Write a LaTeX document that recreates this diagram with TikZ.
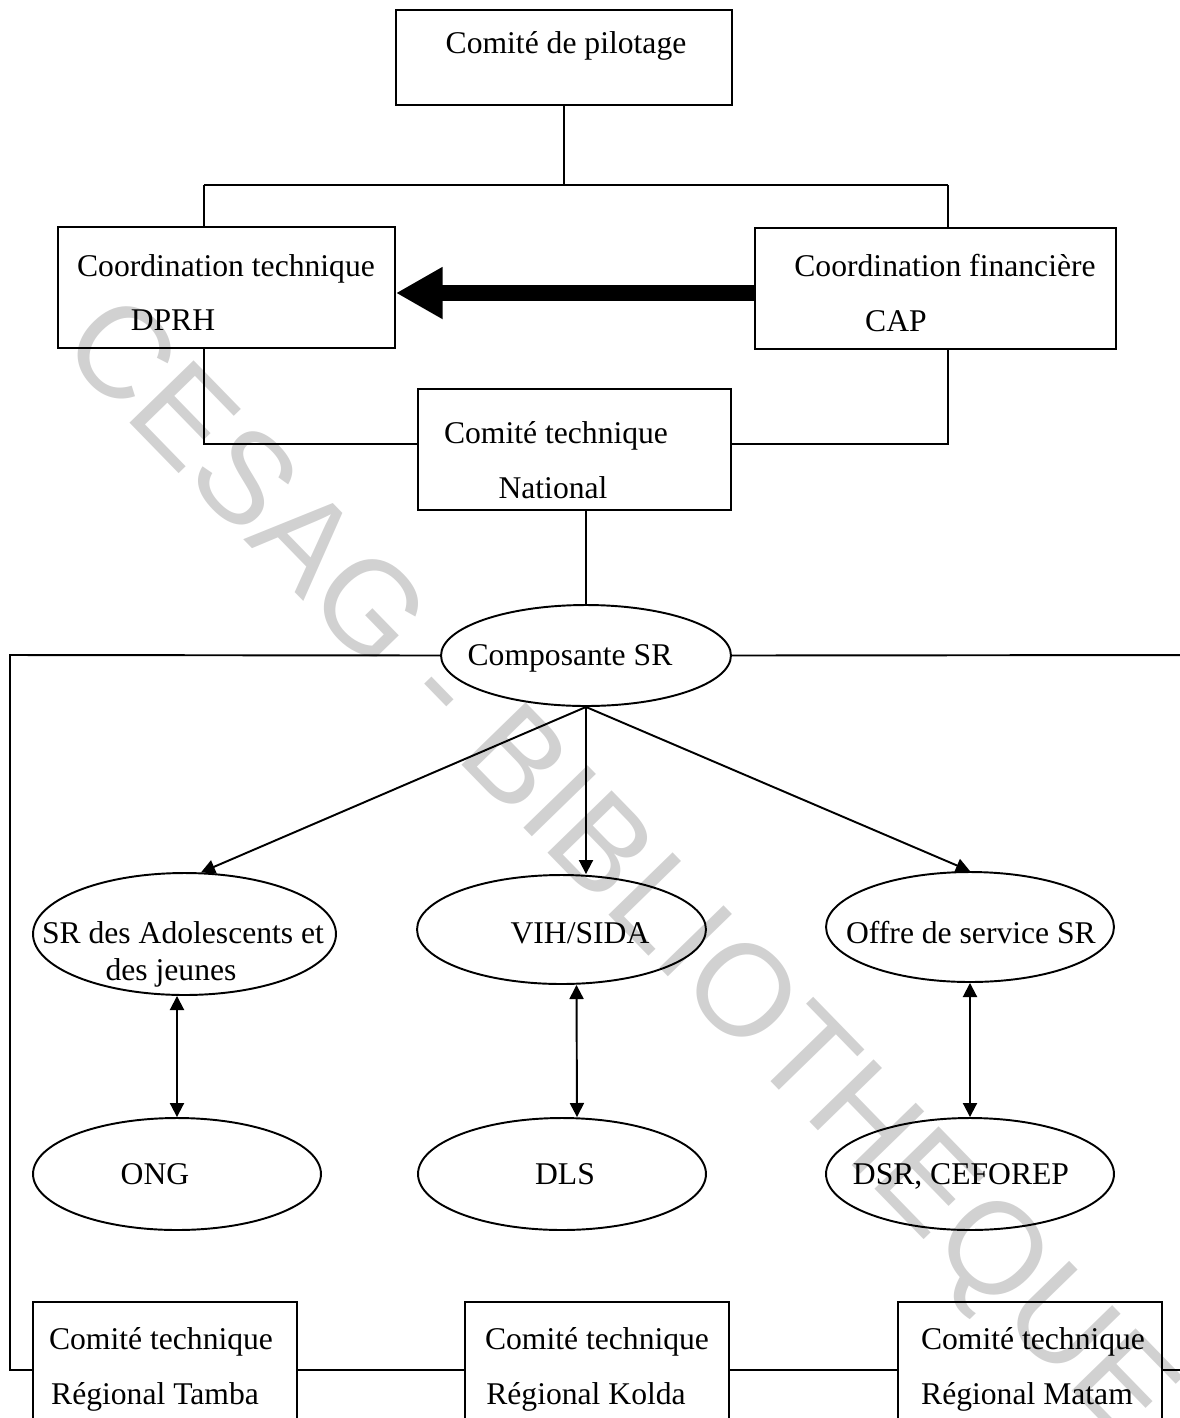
\documentclass[tikz,border=0pt]{standalone}
\usepackage{fontspec}
\setmainfont{Liberation Serif}
\newfontfamily\wmfont{Liberation Sans}
\usetikzlibrary{shapes.geometric,arrows.meta}

\begin{document}
\begin{tikzpicture}[x=0.02cm,y=-0.02cm,>={Triangle[length=8pt,width=8pt]},
  font=\fontsize{18}{20}\selectfont,line width=1.1pt,
  box/.style={draw,inner sep=0pt},
  oval/.style={draw,ellipse,inner sep=0pt},
  lab/.style={inner sep=0pt,text height=12pt,text depth=0pt},
  arr/.style={->},
  darr/.style={<->},
  big/.style={-{Triangle[length=26.6pt,width=27.8pt]},line width=9pt},
  wm/.style={text=black!18,font=\wmfont\fontsize{74}{74}\selectfont}]
  \clip (0,0) rectangle (1180,1418);
  % watermark, under everything
  \node[wm,rotate=-45.8,anchor=base] (wmk) at (591,897) {CESAG - BIBLIOTHEQUE};
  % top levels
  \node[box,minimum width=6.72cm,minimum height=1.9cm] (pil) at (564,57.5) {};
  \node[lab] (pilT) at (566,43) {Comité de pilotage};
  \node[box,minimum width=6.74cm,minimum height=2.42cm] (ctec) at (226.5,287.5) {};
  \node[lab] (ctecT) at (226,266) {Coordination technique};
  \node[lab] (ctecU) at (173,320) {DPRH};
  \node[box,minimum width=7.22cm,minimum height=2.42cm] (cfin) at (935.5,288.5) {};
  \node[lab] (cfinT) at (945,266) {Coordination financière};
  \node[lab] (cfinU) at (896,321) {CAP};
  \node[box,minimum width=6.26cm,minimum height=2.42cm] (ctn) at (574.5,449.5) {};
  \node[lab] (ctnT) at (556,433) {Comité technique};
  \node[lab] (ctnU) at (553,488) {National};
  % tree lines
  \coordinate (k1) at (204,185);
  \coordinate (k2) at (948,185);
  \coordinate (k3) at (204,444);
  \coordinate (k4) at (948,444);
  \draw (pil) -- (pil |- k1);
  \draw (k1) -- (k2);
  \draw (k1) -- (k1 |- ctec.north);
  \draw (k2) -- (k2 |- cfin.north);
  \draw (ctec.south -| k3) -- (k3) -- (k3 -| ctn.west);
  \draw (cfin.south -| k4) -- (k4) -- (k4 -| ctn.east);
  \coordinate (a1) at (755,293);
  \draw[big] (a1) -- (a1 -| ctec.east);
  % component SR
  \node[oval,minimum width=5.8cm,minimum height=2.02cm] (comp) at (586,655.5) {};
  \node[lab] (compT) at (570,655) {Composante SR};
  \draw (comp.north |- ctn.south) -- (comp.north);
  \coordinate (k5) at (10,655);
  \coordinate (k6) at (10,1370);
  \coordinate (k7) at (1200,655);
  \coordinate (k8) at (1200,1370);
  % first row
  \node[oval,minimum width=6.06cm,minimum height=2.44cm] (ado) at (184.5,934) {};
  \node[lab] (adoT) at (183,933) {SR des Adolescents et};
  \node[lab] (adoU) at (171,970) {des jeunes};
  \node[oval,minimum width=5.78cm,minimum height=2.18cm] (vih) at (561.5,929.5) {};
  \node[lab] (vihT) at (580,933) {VIH/SIDA};
  \node[oval,minimum width=5.76cm,minimum height=2.2cm] (off) at (970,927) {};
  \node[lab] (offT) at (971,933) {Offre de service SR};
  \draw[arr] (comp.south) -- (ado.75);
  \draw[arr] (comp.south) -- (comp.south |- vih.north);
  \draw[arr] (comp.south) -- (off.north);
  % second row
  \node[oval,minimum width=5.76cm,minimum height=2.24cm] (ong) at (177,1174) {};
  \node[lab] (ongT) at (155,1174) {ONG};
  \node[oval,minimum width=5.76cm,minimum height=2.24cm] (dls) at (562,1174) {};
  \node[lab] (dlsT) at (565,1174) {DLS};
  \node[oval,minimum width=5.76cm,minimum height=2.24cm] (dsr) at (970,1174) {};
  \node[lab] (dsrT) at (961,1174) {DSR, CEFOREP};
  \draw[darr] (ado.south -| ong.north) -- (ong.north);
  \draw[darr] ([xshift=0.3cm]vih.south) -- ([xshift=0.3cm]dls.north);
  \draw[darr] (off.south) -- (dsr.north);
  % regional committees
  \node[box,minimum width=5.28cm,minimum height=2.76cm] (tam) at (165,1371) {};
  \node[lab] (tamT) at (161,1339) {Comité technique};
  \node[lab] (tamU) at (155,1394) {Régional Tamba};
  \node[box,minimum width=5.28cm,minimum height=2.76cm] (kol) at (597,1371) {};
  \node[lab] (kolT) at (597,1339) {Comité technique};
  \node[lab] (kolU) at (586,1394) {Régional Kolda};
  \node[box,minimum width=5.28cm,minimum height=2.76cm] (mat) at (1030,1371) {};
  \node[lab] (matT) at (1033,1339) {Comité technique};
  \node[lab] (matU) at (1027,1394) {Régional Matam};
  \draw (comp.west) -- (k5) -- (k6) -- (k6 -| tam.west);
  \draw (comp.east) -- (k7);
  \draw (tam.east |- k6) -- (k6 -| kol.west);
  \draw (kol.east |- k6) -- (k6 -| mat.west);
  \draw (mat.east |- k6) -- (k8);
\end{tikzpicture}
\end{document}
